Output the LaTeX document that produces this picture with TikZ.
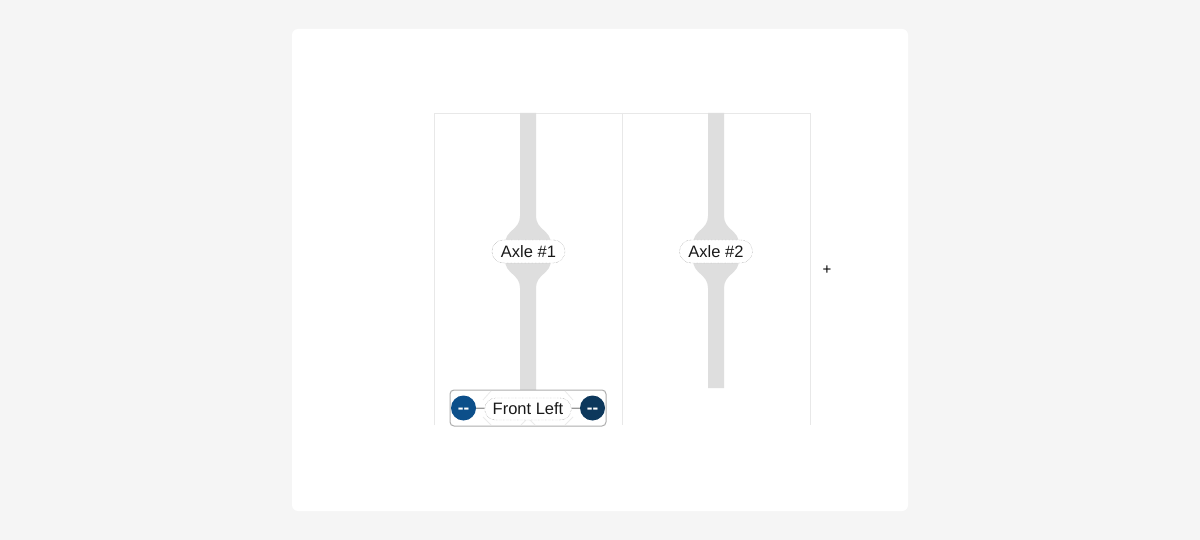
\documentclass[tikz,border=0pt]{standalone}
\usepackage{fontspec}
\setmainfont{Liberation Sans}
\begin{document}
\begin{tikzpicture}[x=1pt,y=-1pt,
  colline/.style={draw=black!9, line width=0.8pt},
  axlebar/.style={fill=black!13, draw=none},
  pill/.style={draw=black!45, densely dotted, fill=white, rounded corners=11.5pt,
    minimum height=23pt, inner xsep=9pt, inner ysep=0pt, font=\fontsize{16.5}{18}\selectfont, text=black!90},
  dot/.style={circle, minimum size=25pt, inner sep=0pt, text=white, font=\fontsize{17}{17}\selectfont\bfseries},
  conn/.style={draw=black!40, line width=1.2pt},
  faint/.style={draw=black!8, line width=0.8pt}
]
\useasboundingbox (0,0) rectangle (1200,540);
\fill[black!4] (0,0) rectangle (1200,540);
\fill[white, rounded corners=6pt] (292,29) rectangle (908,511);
% columns
\draw[colline] (434,425) -- (434,113) -- (810,113) -- (810,425);
\draw[colline] (622,113) -- (622,425);
% axle 1 bar
\path[axlebar] (520,113) -- (520,216) .. controls (520,230) and (505,230) .. (505,244)
  -- (505,260) .. controls (505,274) and (520,274) .. (520,288) -- (520,390)
  -- (536,390) -- (536,288) .. controls (536,274) and (551,274) .. (551,260)
  -- (551,244) .. controls (551,230) and (536,230) .. (536,216) -- (536,113) -- cycle;
% axle 2 bar
\path[axlebar] (708,113) -- (708,216) .. controls (708,230) and (693,230) .. (693,244)
  -- (693,260) .. controls (693,274) and (708,274) .. (708,288) -- (708,388)
  -- (724,388) -- (724,288) .. controls (724,274) and (739,274) .. (739,260)
  -- (739,244) .. controls (739,230) and (724,230) .. (724,216) -- (724,113) -- cycle;
\node[pill] (a1) at (528.5,251.5) {Axle \#1};
\node[pill] (a2) at (716,251.5) {Axle \#2};
% front left group
\node[draw=black!32, line width=1pt, rounded corners=4pt, fill=white,
  minimum width=156pt, minimum height=36pt, inner sep=0pt] (grp) at (528,408) {};
\draw[faint] (491,391) -- (483,400) (483,417) -- (491,425);
\draw[faint] (565,391) -- (573,400) (573,417) -- (565,425);
\draw[faint] (521,425) -- (528,418) -- (535,425);
\node[dot, fill={rgb,255:red,12;green,79;blue,138}] (fl) at (463.5,408) {\raisebox{-5pt}[0pt][0pt]{-{}-}};
\node[dot, fill={rgb,255:red,13;green,56;blue,92}] (fr) at (592.5,408) {\raisebox{-5pt}[0pt][0pt]{-{}-}};
\node[pill, minimum height=22pt, rounded corners=11pt, inner xsep=8pt] (lab) at (528,409) {Front Left};
\draw[conn] (fl) -- (lab);
\draw[conn] (lab) -- (fr);
% plus
\node[font=\fontsize{15}{15}\selectfont, inner sep=0pt] (plus) at (827,270.5) {+};
\end{tikzpicture}
\end{document}
